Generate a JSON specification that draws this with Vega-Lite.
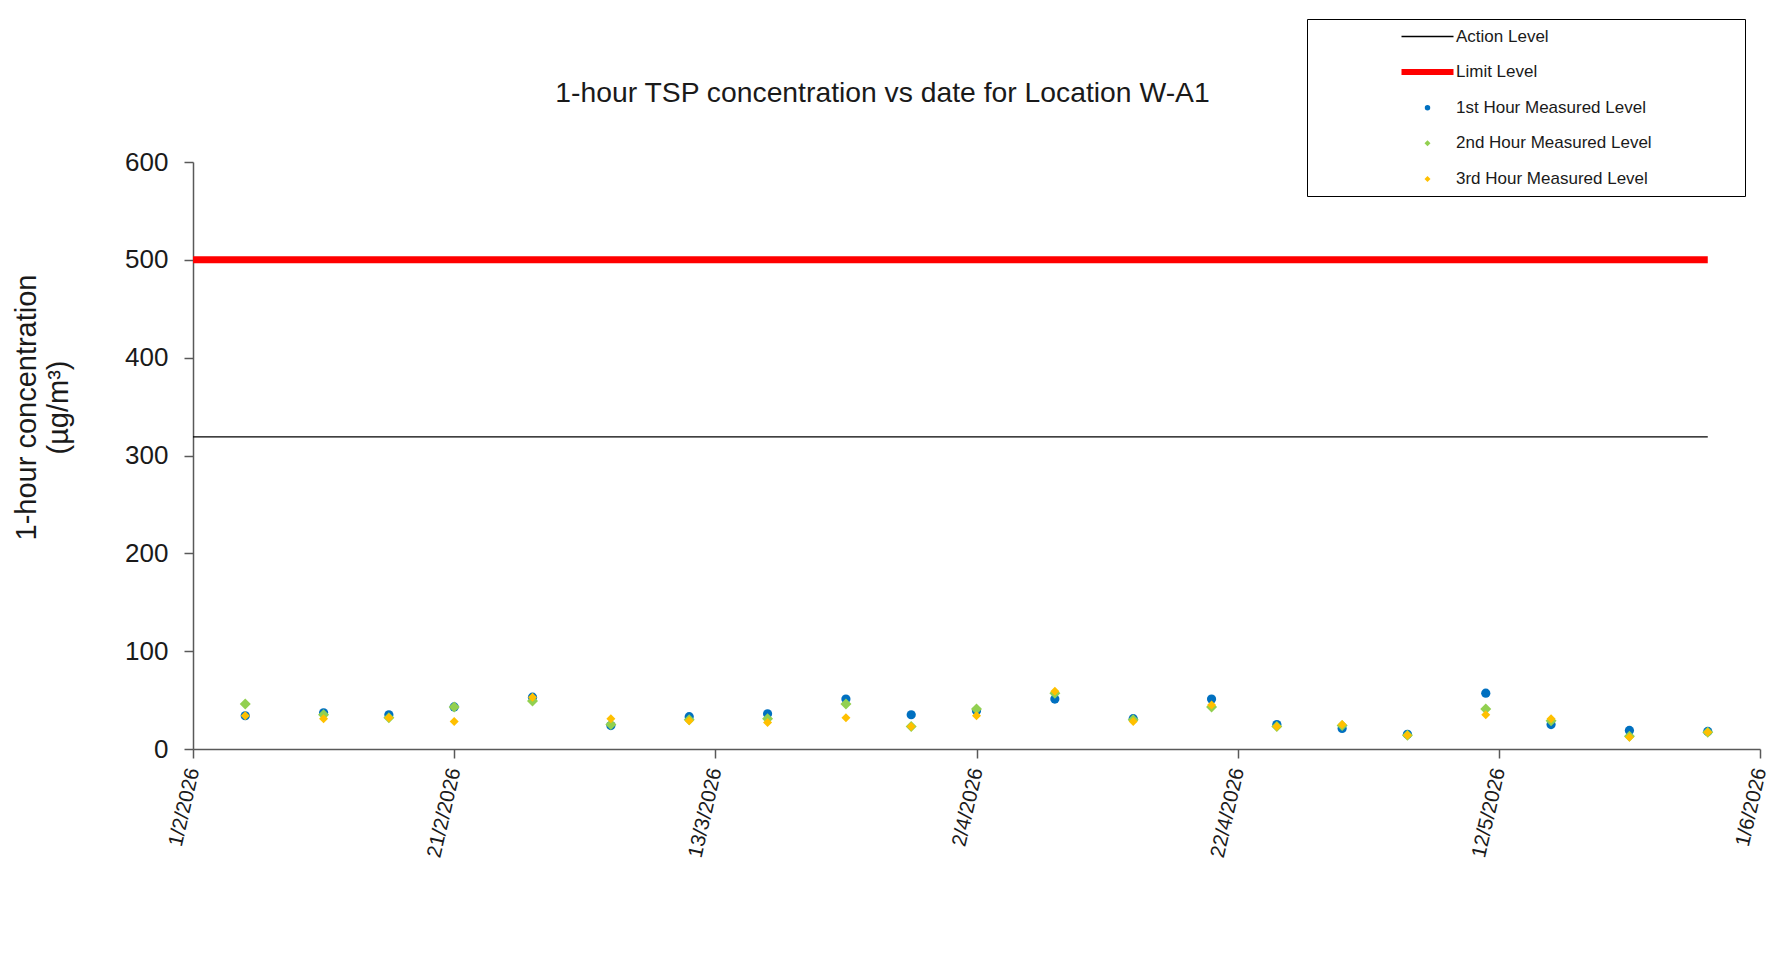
{
  "$schema": "https://vega.github.io/schema/vega-lite/v6.json",
  "width": 1567,
  "height": 587,
  "autosize": {"type": "none"},
  "padding": {"left": 193, "top": 162, "right": 27, "bottom": 210},
  "background": "white",
  "config": {"font": "Liberation Sans", "view": {"stroke": null}},
  "title": {
    "text": "1-hour TSP concentration vs date for Location W-A1",
    "fontSize": 28.3,
    "fontWeight": "normal",
    "color": "#1a1a1a",
    "anchor": "middle",
    "dx": -94,
    "offset": -117.5,
    "baseline": "bottom"
  },
  "datasets": {
    "levels": [
      {"date": "2026-02-01", "series": "Action Level", "value": 319},
      {"date": "2026-05-28", "series": "Action Level", "value": 319},
      {"date": "2026-02-01", "series": "Limit Level", "value": 500},
      {"date": "2026-05-28", "series": "Limit Level", "value": 500}
    ],
    "meas": [
      {"date": "2026-02-05", "series": "1st Hour Measured Level", "value": 34},
      {"date": "2026-02-11", "series": "1st Hour Measured Level", "value": 37},
      {"date": "2026-02-16", "series": "1st Hour Measured Level", "value": 35},
      {"date": "2026-02-21", "series": "1st Hour Measured Level", "value": 43},
      {"date": "2026-02-27", "series": "1st Hour Measured Level", "value": 53},
      {"date": "2026-03-05", "series": "1st Hour Measured Level", "value": 24},
      {"date": "2026-03-11", "series": "1st Hour Measured Level", "value": 33},
      {"date": "2026-03-17", "series": "1st Hour Measured Level", "value": 36},
      {"date": "2026-03-23", "series": "1st Hour Measured Level", "value": 51},
      {"date": "2026-03-28", "series": "1st Hour Measured Level", "value": 35},
      {"date": "2026-04-02", "series": "1st Hour Measured Level", "value": 39},
      {"date": "2026-04-08", "series": "1st Hour Measured Level", "value": 51},
      {"date": "2026-04-14", "series": "1st Hour Measured Level", "value": 31},
      {"date": "2026-04-20", "series": "1st Hour Measured Level", "value": 51},
      {"date": "2026-04-25", "series": "1st Hour Measured Level", "value": 25},
      {"date": "2026-04-30", "series": "1st Hour Measured Level", "value": 21},
      {"date": "2026-05-05", "series": "1st Hour Measured Level", "value": 15},
      {"date": "2026-05-11", "series": "1st Hour Measured Level", "value": 57},
      {"date": "2026-05-16", "series": "1st Hour Measured Level", "value": 25},
      {"date": "2026-05-22", "series": "1st Hour Measured Level", "value": 19},
      {"date": "2026-05-28", "series": "1st Hour Measured Level", "value": 18},
      {"date": "2026-02-05", "series": "2nd Hour Measured Level", "value": 46},
      {"date": "2026-02-11", "series": "2nd Hour Measured Level", "value": 35},
      {"date": "2026-02-16", "series": "2nd Hour Measured Level", "value": 32},
      {"date": "2026-02-21", "series": "2nd Hour Measured Level", "value": 43},
      {"date": "2026-02-27", "series": "2nd Hour Measured Level", "value": 49},
      {"date": "2026-03-05", "series": "2nd Hour Measured Level", "value": 25},
      {"date": "2026-03-11", "series": "2nd Hour Measured Level", "value": 30},
      {"date": "2026-03-17", "series": "2nd Hour Measured Level", "value": 31},
      {"date": "2026-03-23", "series": "2nd Hour Measured Level", "value": 46},
      {"date": "2026-03-28", "series": "2nd Hour Measured Level", "value": 23},
      {"date": "2026-04-02", "series": "2nd Hour Measured Level", "value": 41},
      {"date": "2026-04-08", "series": "2nd Hour Measured Level", "value": 57},
      {"date": "2026-04-14", "series": "2nd Hour Measured Level", "value": 30},
      {"date": "2026-04-20", "series": "2nd Hour Measured Level", "value": 43},
      {"date": "2026-04-25", "series": "2nd Hour Measured Level", "value": 23},
      {"date": "2026-04-30", "series": "2nd Hour Measured Level", "value": 24},
      {"date": "2026-05-05", "series": "2nd Hour Measured Level", "value": 14},
      {"date": "2026-05-11", "series": "2nd Hour Measured Level", "value": 41},
      {"date": "2026-05-16", "series": "2nd Hour Measured Level", "value": 29},
      {"date": "2026-05-22", "series": "2nd Hour Measured Level", "value": 13},
      {"date": "2026-05-28", "series": "2nd Hour Measured Level", "value": 17},
      {"date": "2026-02-05", "series": "3rd Hour Measured Level", "value": 34},
      {"date": "2026-02-11", "series": "3rd Hour Measured Level", "value": 31},
      {"date": "2026-02-16", "series": "3rd Hour Measured Level", "value": 32},
      {"date": "2026-02-21", "series": "3rd Hour Measured Level", "value": 28},
      {"date": "2026-02-27", "series": "3rd Hour Measured Level", "value": 53},
      {"date": "2026-03-05", "series": "3rd Hour Measured Level", "value": 31},
      {"date": "2026-03-11", "series": "3rd Hour Measured Level", "value": 29},
      {"date": "2026-03-17", "series": "3rd Hour Measured Level", "value": 27},
      {"date": "2026-03-23", "series": "3rd Hour Measured Level", "value": 32},
      {"date": "2026-03-28", "series": "3rd Hour Measured Level", "value": 23},
      {"date": "2026-04-02", "series": "3rd Hour Measured Level", "value": 34},
      {"date": "2026-04-08", "series": "3rd Hour Measured Level", "value": 59},
      {"date": "2026-04-14", "series": "3rd Hour Measured Level", "value": 28},
      {"date": "2026-04-20", "series": "3rd Hour Measured Level", "value": 45},
      {"date": "2026-04-25", "series": "3rd Hour Measured Level", "value": 23},
      {"date": "2026-04-30", "series": "3rd Hour Measured Level", "value": 25},
      {"date": "2026-05-05", "series": "3rd Hour Measured Level", "value": 14},
      {"date": "2026-05-11", "series": "3rd Hour Measured Level", "value": 35},
      {"date": "2026-05-16", "series": "3rd Hour Measured Level", "value": 31},
      {"date": "2026-05-22", "series": "3rd Hour Measured Level", "value": 12},
      {"date": "2026-05-28", "series": "3rd Hour Measured Level", "value": 17}
    ]
  },
  "encoding": {
    "x": {
      "field": "date",
      "type": "temporal",
      "scale": {
        "type": "utc",
        "domain": [
          {"year": 2026, "month": 2, "date": 1, "utc": true},
          {"year": 2026, "month": 6, "date": 1, "utc": true}
        ]
      },
      "axis": {
        "title": null,
        "grid": false,
        "values": [
          {"year": 2026, "month": 2, "date": 1, "utc": true},
          {"year": 2026, "month": 2, "date": 21, "utc": true},
          {"year": 2026, "month": 3, "date": 13, "utc": true},
          {"year": 2026, "month": 4, "date": 2, "utc": true},
          {"year": 2026, "month": 4, "date": 22, "utc": true},
          {"year": 2026, "month": 5, "date": 12, "utc": true},
          {"year": 2026, "month": 6, "date": 1, "utc": true}
        ],
        "labelExpr": "utcFormat(datum.value, '%-d/%-m/%Y')",
        "labelAngle": -77,
        "labelFontSize": 20.5,
        "labelColor": "#1a1a1a",
        "labelPadding": 10,
        "labelOverlap": false,
        "labelFlush": false,
        "tickSize": 9,
        "tickWidth": 1.5,
        "tickColor": "#595959",
        "domainColor": "#595959",
        "domainWidth": 1.5
      }
    },
    "y": {
      "field": "value",
      "type": "quantitative",
      "scale": {"domain": [0, 600], "nice": false, "zero": true},
      "axis": {
        "title": ["1-hour concentration", "(µg/m³)"],
        "titleFontSize": 29,
        "titleFontWeight": "normal",
        "titleColor": "#1a1a1a",
        "titleAngle": 270,
        "titleAlign": "center",
        "titleBaseline": "middle",
        "titleLineHeight": 32,
        "titleX": -167,
        "titleY": 245,
        "values": [0, 100, 200, 300, 400, 500, 600],
        "grid": false,
        "labelFontSize": 26,
        "labelColor": "#1a1a1a",
        "labelPadding": 16,
        "tickSize": 9,
        "tickWidth": 1.5,
        "tickColor": "#595959",
        "domainColor": "#595959",
        "domainWidth": 1.5
      }
    },
    "color": {
      "field": "series",
      "type": "nominal",
      "scale": {
        "domain": ["Action Level", "Limit Level", "1st Hour Measured Level", "2nd Hour Measured Level", "3rd Hour Measured Level"],
        "range": ["#000000", "#ff0000", "#0070c0", "#92d050", "#ffc000"]
      },
      "legend": {
        "title": null,
        "orient": "none",
        "legendX": 1114,
        "legendY": -143,
        "padding": 9,
        "strokeColor": "#000000",
        "fillColor": "#ffffff",
        "symbolSize": 100,
        "symbolOffset": 103,
        "labelOffset": 20,
        "labelFontSize": 17,
        "labelColor": "#1a1a1a",
        "labelLimit": 800,
        "gridAlign": "all",
        "rowPadding": 10.6,
        "labelExpr": "datum.label + '\u2800\u2800\u2800\u2800\u2800\u2800\u2800'",
        "encode": {
          "symbols": {
            "update": {
              "shape": {"signal": "datum.value == 'Action Level' || datum.value == 'Limit Level' ? 'stroke' : datum.value == '1st Hour Measured Level' ? 'circle' : 'diamond'"},
              "size": {"signal": "datum.value == 'Action Level' || datum.value == 'Limit Level' ? 2704 : datum.value == '1st Hour Measured Level' ? 30 : 36"},
              "strokeWidth": {"signal": "datum.value == 'Action Level' ? 1.3 : datum.value == 'Limit Level' ? 6 : 0"},
              "stroke": {"signal": "datum.value == 'Action Level' ? '#000000' : datum.value == 'Limit Level' ? '#ff0000' : 'transparent'"},
              "fill": {"signal": "datum.value == '1st Hour Measured Level' ? '#0070c0' : datum.value == '2nd Hour Measured Level' ? '#92d050' : datum.value == '3rd Hour Measured Level' ? '#ffc000' : 'transparent'"},
              "opacity": {"value": 1}
            }
          }
        }
      }
    }
  },
  "layer": [
    {
      "data": {"name": "levels"},
      "transform": [{"filter": "datum.series == 'Action Level'"}],
      "mark": {"type": "line", "strokeWidth": 1.3}
    },
    {
      "data": {"name": "levels"},
      "transform": [{"filter": "datum.series == 'Limit Level'"}],
      "mark": {"type": "line", "strokeWidth": 7}
    },
    {
      "data": {"name": "meas"},
      "transform": [{"filter": "datum.series == '1st Hour Measured Level'"}],
      "mark": {"type": "point", "shape": "circle", "filled": true, "size": 85, "opacity": 1}
    },
    {
      "data": {"name": "meas"},
      "transform": [{"filter": "datum.series == '2nd Hour Measured Level'"}],
      "mark": {"type": "point", "shape": "diamond", "filled": true, "size": 121, "opacity": 1}
    },
    {
      "data": {"name": "meas"},
      "transform": [{"filter": "datum.series == '3rd Hour Measured Level'"}],
      "mark": {"type": "point", "shape": "diamond", "filled": true, "size": 81, "opacity": 1}
    }
  ]
}
